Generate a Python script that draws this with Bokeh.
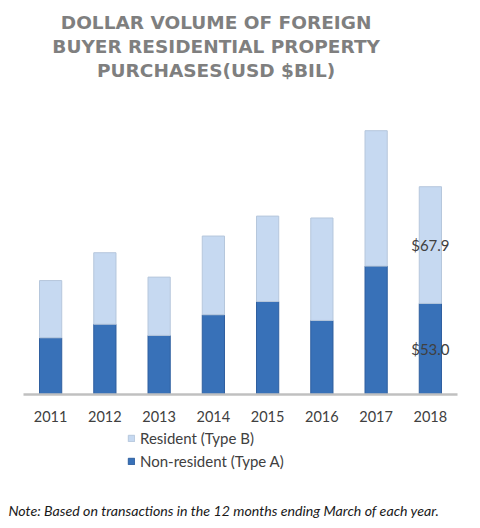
from bokeh.core.properties import value
from bokeh.embed import file_html
from bokeh.models import ColumnDataSource, FixedTicker, Label, Legend, LegendItem, Range1d
from bokeh.plotting import figure
from bokeh.resources import INLINE

years = ["2011", "2012", "2013", "2014", "2015", "2016", "2017", "2018"]
non_resident = [33.0, 40.9, 34.4, 46.4, 54.1, 43.1, 74.7, 53.0]   # Type A
resident = [33.3, 41.6, 33.9, 45.8, 49.7, 59.6, 78.8, 67.9]       # Type B
title_lines = ["DOLLAR VOLUME OF FOREIGN",
               "BUYER RESIDENTIAL PROPERTY",
               "PURCHASES(USD $BIL)"]
note = "Note: Based on transactions in the 12 months ending March of each year."

DARK = "#3871b8"
LIGHT = "#c6d9f1"
TEXT = "#404040"
FONT = "Lato"

# the frame fills the whole canvas so title, legend and note are not clipped
W, H = 464, 526
X0, PX_X = 23, 54.25          # left edge of first category, px per category
Y0, PX_Y = 394, 1.71875       # baseline, px per $bil

pos = [i + 0.5 for i in range(len(years))]
source = ColumnDataSource(data=dict(
    x=pos,
    nonres=non_resident,
    res=resident,
    top=[a + b for a, b in zip(non_resident, resident)],
))

p = figure(width=W, height=H,
           x_range=Range1d(-X0 / PX_X, (W - X0) / PX_X),
           y_range=Range1d(-(H - Y0) / PX_Y, Y0 / PX_Y),
           min_border=0,
           output_backend="svg", toolbar_location=None)

dark = p.vbar(x="x", bottom=0, top="nonres", width=0.41, source=source,
              fill_color=DARK, line_color="#2f5f9f", line_width=1)
light = p.vbar(x="x", bottom="nonres", top="top", width=0.41, source=source,
               fill_color=LIGHT, line_color="#b6c7dc", line_width=1)

# value labels on the last bar only
last = len(years) - 1
p.text(x=[pos[last]], y=[non_resident[last] / 2],
       text=["$%.1f" % non_resident[last]],
       text_align="center", text_baseline="middle",
       text_font=value(FONT), text_font_size="15px", text_color=TEXT)
p.text(x=[pos[last]], y=[non_resident[last] + resident[last] / 2],
       text=["$%.1f" % resident[last]],
       text_align="center", text_baseline="middle",
       text_font=value(FONT), text_font_size="15px", text_color=TEXT)

p.yaxis.visible = False
p.xgrid.grid_line_color = None
p.ygrid.grid_line_color = None
p.outline_line_color = None

xa = p.xaxis[0]
xa.fixed_location = 0
xa.bounds = (0, len(years))
xa.ticker = FixedTicker(ticks=pos)
xa.major_label_overrides = {x: y for x, y in zip(pos, years)}
xa.axis_line_color = "#c0c0c0"
xa.axis_line_width = 2.5
xa.major_tick_line_color = None
xa.minor_tick_line_color = None
xa.major_tick_out = 0
xa.major_label_standoff = 16
xa.major_label_text_font = FONT
xa.major_label_text_font_size = "14.5px"
xa.major_label_text_color = TEXT

# title, three centred lines above the bars
for i, line in enumerate(title_lines):
    p.add_layout(Label(x=3.55, y=216.6 - i * 14.1, text=line,
                       text_align="center", text_baseline="middle",
                       text_font="DejaVu Sans", text_font_style="bold",
                       text_font_size="18.5px", text_color="#7f7f7f"))

legend = Legend(items=[LegendItem(label="Resident (Type B)", renderers=[light]),
                       LegendItem(label="Non-resident (Type A)", renderers=[dark])],
                location=(127, H - 471), orientation="vertical",
                glyph_width=8, glyph_height=8, label_height=20, spacing=3,
                label_standoff=5, padding=0, margin=0,
                border_line_color=None, background_fill_alpha=0,
                label_text_font=FONT, label_text_font_size="15px",
                label_text_color=TEXT)
p.add_layout(legend)

p.add_layout(Label(x=-0.2765, y=-67.5, text=note,
                   text_align="left", text_baseline="middle",
                   text_font=FONT, text_font_style="italic",
                   text_font_size="14.2px", text_color="#1a1a1a"))

open("out.html", "w").write(file_html(p, INLINE))
